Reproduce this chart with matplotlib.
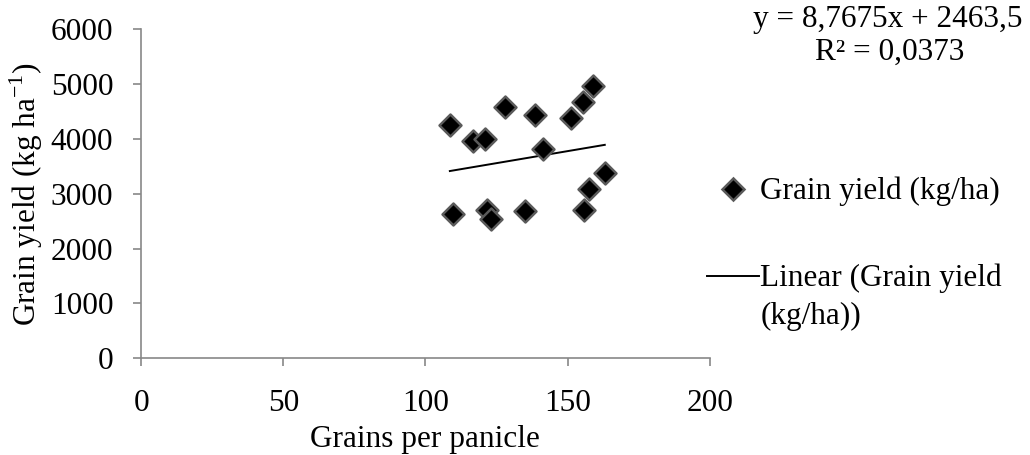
import numpy as np
import matplotlib
matplotlib.use("Agg")
import matplotlib.pyplot as plt
from matplotlib.lines import Line2D

plt.rcParams['font.family'] = ['Liberation Serif', 'DejaVu Serif']
plt.rcParams['mathtext.fontset'] = 'custom'
plt.rcParams['mathtext.rm'] = 'Liberation Serif'

grains = [108.6, 116.8, 120.9, 127.9, 138.5, 141.4, 151.1, 155.5, 159.1,
          163.1, 157.6, 155.9, 135.2, 121.5, 123.2, 109.6]
yield_kg = [4255, 3964, 3995, 4584, 4432, 3825, 4378, 4675, 4967,
            3387, 3083, 2705, 2687, 2705, 2548, 2627]
slope = 8.7675
intercept = 2463.5
r2_text = "0,0373"
x_ticks = [0, 50, 100, 150, 200]
y_ticks = [0, 1000, 2000, 3000, 4000, 5000, 6000]

fig = plt.figure(figsize=(10.30, 4.55), dpi=100)
ax = fig.add_axes([0.137, 0.2125, 0.552, 0.723])

fs = 22.5
ax.scatter(grains, yield_kg, marker='D', s=125, c='black', edgecolors='#5a5a5a',
           linewidths=1.8, zorder=3)
xs = np.array([min(grains), max(grains)])
ax.plot(xs, slope * xs + intercept, color='black', lw=1.4, zorder=2)

ax.set_xlim(0, 200)
ax.set_ylim(0, 6000)
ax.set_xticks(x_ticks)
ax.set_yticks(y_ticks)
ax.tick_params(labelsize=fs, colors='#888888', labelcolor='black', length=6, width=1.2)
for s in ['top', 'right']:
    ax.spines[s].set_visible(False)
for s in ['left', 'bottom']:
    ax.spines[s].set_color('#888888')
    ax.spines[s].set_linewidth(1.2)
ax.tick_params(axis='x', pad=16)
ax.tick_params(axis='y', pad=14)

ax.set_xlabel("Grains per panicle", fontsize=fs, labelpad=5)
ax.set_ylabel("Grain yield (kg ha$^{\\mathregular{-1}}$)", fontsize=fs, labelpad=4)

fig.text(0.862, 0.957, "y = 8,7675x + 2463,5", fontsize=fs, ha='center', va='center')
fig.text(0.864, 0.885, "R² = " + r2_text, fontsize=fs, ha='center', va='center')

handles = [Line2D([], [], marker='D', ls='none', color='black', markeredgecolor='#5a5a5a',
                  markersize=11, markeredgewidth=1.8),
           Line2D([], [], color='black', lw=1.4)]
labels = ["Grain yield (kg/ha)", "Linear (Grain yield\n(kg/ha))"]
leg = fig.legend(handles, labels, loc='upper left', bbox_to_anchor=(0.6865, 0.612),
                 frameon=False, fontsize=fs, handlelength=1.65, handletextpad=0.05,
                 handleheight=1.1, labelspacing=1.82, borderaxespad=0, borderpad=0)
for t in leg.get_texts():
    t.set_linespacing(1.4)
try:
    for col in leg._legend_handle_box.get_children():
        for hp in col.get_children():
            hp.align = "top"
except Exception:
    pass

fig.savefig("out.png", dpi=100)
